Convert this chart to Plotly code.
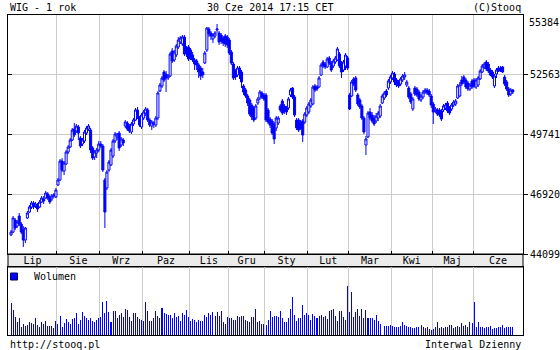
import plotly.graph_objects as go

# ---------------- data ----------------
months = ["Lip", "Sie", "Wrz", "Paz", "Lis", "Gru", "Sty", "Lut", "Mar", "Kwi", "Maj", "Cze"]
month_days = [23, 21, 21, 23, 19, 18, 21, 20, 21, 20, 20, 20]
y_ticks = [44099, 46920, 49741, 52563]
y_top_label = "55384"

opens = [
    44991, 45132, 45696, 45414, 45885, 45508, 45226, 44756, 45790, 46073, 46308, 46496, 46355, 46402, 46308, 46543, 46684, 46731, 46919, 46778, 46684, 46825, 46778,
    47343, 47578, 48471, 48001, 48330, 48894, 49130, 49459, 49976, 49882, 50070, 49553, 49271, 49412, 49788, 49976, 49929, 49083, 48659, 48847, 48988,
    49271, 49177, 47578, 47201, 48048, 48283, 48706, 49412, 49600, 49788, 49224, 49459, 50117, 50258, 50117, 49835, 50211, 50399, 50870, 50493, 50070,
    50493, 50729, 50870, 50399, 50117, 50258, 50164, 50493, 51763, 51998, 52657, 52563, 52375, 52469, 53644, 53221, 53456, 53833, 54068, 53974, 54303, 53786, 53833,
    53691, 53456, 53221, 53174, 52986, 52845, 52657, 53080, 53691, 54679, 54491, 54209, 54350, 54632, 54491, 54397, 54256, 54350, 54303,
    54162, 53597, 53033, 52704, 52516, 52845, 52657, 51998, 51810, 51528, 51340, 51105, 50964, 50493, 51199, 51434, 51669, 51575,
    51575, 50870, 50446, 50352, 50211, 50023, 50258, 51058, 51293, 51058, 50964, 50964, 51575, 51904, 51481, 50399, 50399, 50305, 50352, 50305, 50635,
    50776, 51058, 51152, 51998, 51951, 51951, 52516, 53127, 53033, 52892, 53315, 53080, 52939, 53127, 53221, 53503, 53080, 52751, 52939, 53315,
    51575, 51528, 52328, 52375, 51575, 51340, 51058, 50493, 49224, 49600, 50776, 50635, 50493, 50352, 50493, 50588, 51199, 51434, 51763, 51904, 52187,
    52375, 52563, 52281, 52187, 52092, 52281, 52422, 52045, 51904, 51622, 50917, 51904, 51857, 51716, 51340, 51481, 51716, 51810, 51763, 51528,
    51152, 50823, 50870, 50870, 50823, 50870, 50964, 51199, 50964, 50917, 51105, 51152, 51434, 51528, 52281, 52422, 52281, 52140, 51857, 52234,
    52281, 51951, 52045, 52328, 52657, 52892, 53127, 53033, 52751, 52657, 51998, 52563, 52845, 52845, 52892, 52422, 52187, 51857, 51622, 51810,
]
highs = [
    45226, 45885, 45790, 45696, 46026, 45602, 45414, 45367, 46120, 46402, 46590, 46590, 46543, 46496, 46637, 46825, 46825, 47060, 47013, 46872, 46919, 46966, 47201,
    47672, 48565, 48612, 48471, 48988, 49224, 49553, 50023, 50258, 50211, 50164, 49647, 49553, 49929, 50117, 50211, 50023, 49177, 48988, 49083, 49412,
    49412, 49271, 47672, 48048, 48518, 49083, 49506, 49835, 49788, 49882, 49600, 49553, 50399, 50352, 50211, 50305, 50493, 50964, 51011, 50588, 50729,
    50870, 51011, 50964, 50493, 50399, 50352, 50588, 51763, 52140, 52469, 52751, 52704, 52563, 53597, 53786, 53691, 53974, 54303, 54350, 54397, 54397, 53880, 53927,
    53786, 53597, 53315, 53268, 53080, 52939, 52845, 53644, 54773, 54773, 54585, 54491, 54585, 54914, 54585, 54491, 54350, 54444, 54397,
    54256, 53691, 53127, 52798, 52939, 52939, 52751, 52092, 51904, 51622, 51434, 51199, 51058, 51152, 51481, 51810, 51763, 51669,
    51669, 50964, 50540, 50446, 50305, 50588, 50588, 51152, 51387, 51152, 51058, 51481, 51904, 51951, 51575, 50493, 50493, 50399, 50446, 50776, 51058,
    51246, 51434, 52045, 52092, 52045, 52469, 53080, 53221, 53127, 53362, 53409, 53174, 53268, 53409, 53833, 53597, 53174, 53221, 53550, 53409,
    51669, 52281, 52422, 52469, 51669, 51434, 51152, 50588, 49647, 50823, 50964, 50776, 50635, 50729, 50823, 51152, 51622, 51763, 51857, 52328, 52516,
    52704, 52657, 52375, 52281, 52422, 52563, 52657, 52281, 51998, 51716, 51481, 51998, 51951, 51810, 51622, 51810, 51904, 51904, 51857, 51622,
    51246, 51011, 50964, 50964, 50917, 51152, 51199, 51293, 51058, 51199, 51340, 51387, 52092, 52187, 52469, 52516, 52375, 52234, 52140, 52328,
    52375, 52375, 52469, 52798, 53033, 53127, 53221, 53127, 52845, 52751, 52563, 52845, 52939, 52939, 52939, 52516, 52281, 51951, 51904, 51857,
]
lows = [
    44944, 45085, 45226, 45320, 45414, 45038, 44427, 44615, 45743, 46026, 46214, 46214, 46261, 46073, 46261, 46496, 46449, 46684, 46637, 46449, 46590, 46731, 46731,
    47295, 47531, 47954, 47813, 48283, 48800, 49083, 49412, 49600, 49788, 49459, 49083, 49177, 49318, 49694, 49882, 48847, 48518, 48518, 48612, 48894,
    49083, 47954, 45320, 47107, 47954, 48236, 48612, 49318, 49459, 48941, 49130, 49177, 50023, 49882, 49788, 49741, 50117, 50352, 50446, 50070, 49976,
    50399, 50588, 50305, 50070, 49929, 50023, 50070, 50399, 51716, 51904, 52187, 51716, 52281, 52422, 53080, 53127, 53362, 53739, 53974, 53880, 53409, 53362, 53174,
    53221, 53127, 52751, 52751, 52375, 52281, 52375, 53033, 53597, 54303, 54162, 54021, 54256, 54491, 53927, 53974, 53880, 53833, 53786,
    53456, 52986, 52281, 52281, 52422, 52328, 51904, 51575, 51434, 51058, 50588, 50399, 50305, 50399, 51105, 51340, 51387, 51293,
    50305, 50211, 50023, 49694, 49271, 49882, 50164, 50776, 50635, 50682, 50635, 50870, 51481, 51387, 50540, 49929, 49835, 49929, 49365, 50211, 50540,
    50682, 50964, 51105, 51716, 51763, 51904, 52469, 52845, 52798, 52845, 52986, 52657, 52845, 53033, 53174, 52845, 52375, 52657, 52751, 52751,
    50870, 51481, 51998, 51716, 51058, 50917, 50399, 49741, 48753, 49553, 50399, 50258, 50117, 50258, 50352, 50493, 51152, 51340, 51481, 51810, 52092,
    52281, 52045, 51951, 51904, 51998, 52187, 52281, 51951, 51387, 51152, 50823, 51528, 51481, 51293, 51246, 51387, 51622, 51575, 51481, 50964,
    50211, 50729, 50588, 50540, 50352, 50776, 50870, 50729, 50635, 50823, 51011, 51058, 51387, 51481, 51998, 52092, 51857, 51763, 51763, 51857,
    51904, 51857, 51951, 52281, 52610, 52798, 52704, 52610, 52469, 52328, 51904, 52375, 52657, 52657, 52610, 51998, 51763, 51481, 51528, 51622,
]
closes = [
    45132, 45790, 45320, 45602, 45508, 45132, 44756, 45320, 46026, 46308, 46496, 46308, 46449, 46214, 46543, 46731, 46590, 46966, 46731, 46543, 46825, 46872, 47107,
    47578, 48471, 48048, 48377, 48894, 49130, 49459, 49929, 49694, 50117, 49788, 49177, 49459, 49835, 50023, 50117, 48988, 48612, 48894, 48988, 49271,
    49177, 48048, 46073, 47954, 48424, 48988, 49412, 49741, 49741, 49083, 49506, 49318, 50305, 49976, 49882, 50211, 50399, 50870, 50493, 50164, 50635,
    50776, 50917, 50399, 50164, 50305, 50211, 50493, 51669, 52045, 52375, 52281, 52375, 52469, 53503, 53174, 53597, 53880, 54162, 54256, 54303, 53503, 53503, 53268,
    53362, 53221, 53033, 52986, 52657, 52469, 52516, 53550, 54726, 54444, 54350, 54397, 54491, 54679, 54068, 54115, 54021, 53974, 53927,
    53550, 53080, 52375, 52422, 52845, 52657, 52187, 51716, 51528, 51199, 50682, 50540, 50399, 51058, 51387, 51716, 51481, 51387,
    50399, 50305, 50164, 49788, 49506, 50493, 50493, 50870, 50729, 50823, 50776, 51387, 51810, 51481, 50635, 50023, 49929, 50023, 49694, 50682, 50964,
    51152, 51340, 51951, 51810, 51857, 52375, 52986, 52939, 52892, 53268, 53080, 52751, 53174, 53315, 53739, 52939, 52657, 53127, 53456, 52845,
    50917, 52187, 52092, 51810, 51152, 51011, 50493, 49835, 49506, 50729, 50493, 50352, 50211, 50588, 50729, 51058, 51528, 51669, 51575, 52234, 52422,
    52610, 52187, 52045, 51998, 52328, 52469, 52516, 52187, 51481, 51246, 51387, 51622, 51575, 51387, 51528, 51716, 51810, 51669, 51575, 51105,
    50776, 50917, 50682, 50635, 50446, 51058, 51105, 50823, 50729, 51105, 51246, 51293, 51998, 52045, 52092, 52187, 51951, 51857, 52045, 51951,
    51998, 52281, 52375, 52704, 52939, 53033, 52798, 52704, 52516, 52422, 52469, 52751, 52704, 52704, 52657, 52092, 51857, 51575, 51810, 51716,
]
volume = [
    32, 25, 18, 13, 17, 8, 11, 9, 10, 13,
    12, 11, 17, 10, 8, 13, 11, 14, 9, 9,
    9, 7, 14, 11, 19, 8, 12, 16, 13, 11,
    16, 17, 22, 11, 15, 23, 19, 17, 15, 17,
    14, 13, 15, 17, 18, 33, 22, 34, 23, 13,
    24, 24, 17, 20, 22, 18, 26, 25, 18,
    14, 22, 22, 18, 16, 15, 14, 33, 24, 14,
    14, 17, 24, 19, 17, 27, 22, 21, 20, 20,
    17, 22, 18, 19, 14, 22, 20, 25, 18, 14,
    16, 15, 13, 15, 14, 14, 20, 18, 22, 20,
    23, 19, 23, 19, 24, 13, 11, 18, 17, 17,
    15, 15, 19, 18, 19, 19, 15, 14, 13,
    18, 18, 26, 13, 14, 11, 11, 10, 15, 24,
    18, 19, 19, 18,
    24, 17, 13, 13, 17, 26, 38, 20, 14, 17,
    17, 30, 20, 22, 20, 15, 21, 19, 17, 19,
    20, 18, 19, 16, 24, 25, 26, 19, 14, 24,
    24, 18, 15, 49, 23, 43, 18, 23, 26, 19,
    26, 17, 25, 17, 17, 17, 15, 20, 14, 11,
    0,
    9, 9, 9, 10, 9, 8, 8, 8, 9, 13,
    10, 9, 8, 8, 7, 7, 8, 8, 10, 8,
    7, 8, 6, 5, 6, 8, 13, 7, 8, 7,
    8, 8, 10, 10, 7, 8, 9, 8, 12, 9,
    10, 8, 13, 12, 33, 8, 13, 8, 8, 7,
    8, 8, 9, 6, 7, 7, 8, 8, 10, 7,
    8, 8, 8, 8,
]

n = len(closes)
assert len(opens) == n and len(highs) == n and len(lows) == n and len(volume) == n
days = list(range(n))

# month boundaries (grid) and month label positions
starts = []
acc = 0
for m in month_days:
    starts.append(acc)
    acc += m
x_lo, x_hi = -1.5, n + 4.0
bounds = [s - 0.5 for s in starts[1:]]
edges = [x_lo] + bounds + [x_hi]
mids = [(edges[i] + edges[i + 1]) / 2 for i in range(len(months))]

y_lo, y_hi = 44099, 55337

BLUE = "#0000ff"
GRID = "#cccccc"
FONT = dict(family="DejaVu Sans Mono", size=10, color="#000000")

fig = go.Figure()
fig.add_trace(go.Candlestick(
    x=days, open=opens, high=highs, low=lows, close=closes,
    increasing=dict(line=dict(color=BLUE, width=1), fillcolor="#ffffff"),
    decreasing=dict(line=dict(color=BLUE, width=1), fillcolor=BLUE),
    whiskerwidth=0, xaxis="x", yaxis="y", showlegend=False, hoverinfo="skip",
))
fig.add_trace(go.Bar(
    x=days, y=volume, width=0.5, marker=dict(color=BLUE, line=dict(width=0)),
    xaxis="x2", yaxis="y2", showlegend=False, hoverinfo="skip",
))
fig.add_trace(go.Scatter(
    x=[None], y=[None], mode="markers", name="Wolumen",
    marker=dict(symbol="square", size=7, color=BLUE, line=dict(color="#000060", width=1)),
    xaxis="x2", yaxis="y2", showlegend=True,
))
# empty helper traces so the auxiliary axes (month labels, left ticks) get drawn
fig.add_trace(go.Scatter(x=[None], y=[None], mode="markers", xaxis="x3", yaxis="y2",
                         showlegend=False, hoverinfo="skip"))
fig.add_trace(go.Scatter(x=[None], y=[None], mode="markers", xaxis="x", yaxis="y3",
                         showlegend=False, hoverinfo="skip"))

W, H = 560, 350
H_PLOT = 320.0
vol_top = 68 / H_PLOT
band_top = 81 / H_PLOT

fig.update_layout(
    width=W, height=H, autosize=False,
    margin=dict(l=8, r=37, t=15, b=15, pad=0, autoexpand=False),
    paper_bgcolor="#ffffff", plot_bgcolor="#ffffff",
    font=FONT,
    boxgap=0.0, boxgroupgap=0,
    bargap=0,
    hovermode=False,
    xaxis=dict(
        domain=[0, 1], anchor="y", range=[x_lo, x_hi],
        tickvals=bounds, showticklabels=False,
        showgrid=True, gridcolor=GRID, gridwidth=1,
        ticks="inside", ticklen=3, tickcolor="#000000",
        showline=True, mirror=True, linecolor="#000000", linewidth=1,
        zeroline=False, rangeslider=dict(visible=False), fixedrange=True,
        automargin=False,
    ),
    yaxis=dict(
        domain=[band_top, 1], anchor="x", range=[y_lo, y_hi], side="right",
        tickvals=y_ticks, ticktext=[str(v) for v in y_ticks],
        ticks="outside", ticklen=4, tickcolor="#000000",
        showgrid=True, gridcolor=GRID, gridwidth=1,
        showline=True, mirror=True, linecolor="#000000", linewidth=1,
        zeroline=False, tickfont=FONT, automargin=False,
    ),
    yaxis3=dict(
        overlaying="y", anchor="x", side="left", range=[y_lo, y_hi],
        tickvals=y_ticks[1:], showticklabels=False, ticks="inside", ticklen=4,
        tickcolor="#000000", showgrid=False, showline=False, zeroline=False,
        automargin=False,
    ),
    xaxis2=dict(
        domain=[0, 1], anchor="y2", range=[x_lo, x_hi],
        tickvals=bounds, showticklabels=False,
        showgrid=True, gridcolor=GRID, gridwidth=1, ticks="",
        showline=True, mirror=True, linecolor="#000000", linewidth=1,
        zeroline=False, automargin=False,
    ),
    xaxis3=dict(
        overlaying="x2", anchor="y2", side="top", range=[x_lo, x_hi],
        tickvals=mids, ticktext=months, ticks="", showgrid=False,
        showline=False, zeroline=False, tickfont=FONT, automargin=False,
    ),
    yaxis2=dict(
        domain=[0, vol_top], anchor="x2", range=[0, 68],
        showticklabels=False, ticks="", showgrid=False,
        showline=True, mirror=True, linecolor="#000000", linewidth=1,
        zeroline=False, automargin=False,
    ),
    legend=dict(
        xref="container", yref="container",
        x=0, xanchor="left", y=1 - 262 / H, yanchor="top",
        bgcolor="rgba(0,0,0,0)", borderwidth=0, font=FONT,
        itemwidth=30, tracegroupgap=0, indentation=-6,
    ),
    shapes=[dict(
        type="rect", xref="paper", yref="paper", x0=0, x1=1, y0=vol_top, y1=band_top,
        fillcolor="#ebebeb", line=dict(width=1, color="#000000"), layer="below",
    )],
    annotations=[
        dict(text="WIG - 1 rok", xref="paper", yref="paper", x=0, y=1, xanchor="left", yanchor="bottom",
             showarrow=False, font=FONT),
        dict(text="30 Cze 2014 17:15 CET", xref="paper", yref="paper", x=(270 - 8) / 515, y=1,
             xanchor="center", yanchor="bottom", showarrow=False, font=FONT),
        dict(text="(C)Stooq", xref="paper", yref="paper", x=1, y=1, xanchor="right", yanchor="bottom",
             showarrow=False, font=FONT),
        dict(text=y_top_label, xref="paper", yref="y", x=1, y=55008, xanchor="left", yanchor="middle",
             xshift=4, showarrow=False, font=FONT),
        dict(text="http://stooq.pl", xref="paper", yref="paper", x=0, y=0, xanchor="left", yanchor="top",
             yshift=-2, showarrow=False, font=FONT),
        dict(text="Interwal Dzienny", xref="paper", yref="paper", x=1, y=0, xanchor="right", yanchor="top",
             yshift=-2, showarrow=False, font=FONT),
    ],
)

fig.write_html("out.html", config={"displayModeBar": False, "staticPlot": True})
